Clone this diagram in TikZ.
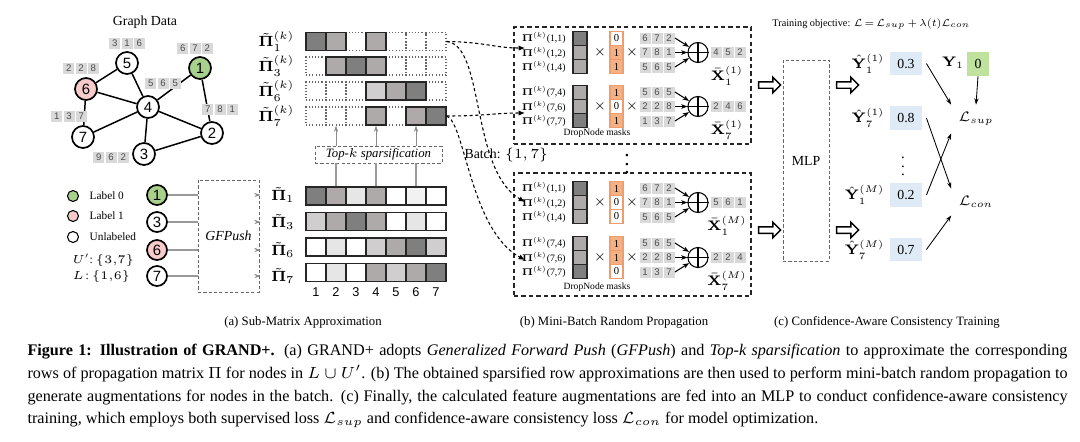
\RequirePackage{fix-cm}
\documentclass[tikz,border=0pt]{standalone}
\usepackage{graphicx}
\usepackage[no-math]{fontspec}
\setmainfont{Liberation Serif}
\newfontfamily\cellfont{Liberation Sans}
\usetikzlibrary{arrows.meta,shapes.arrows,positioning}

\newcommand{\pu}{0.47pt}
\definecolor{gdark}{HTML}{7F7F7F}
\definecolor{gmid}{HTML}{AEAAAA}
\definecolor{glight}{HTML}{D0CECE}
\definecolor{gpale}{HTML}{E7E6E6}
\definecolor{gfaint}{HTML}{F2F2F2}
\definecolor{featgray}{HTML}{D9D9D9}
\definecolor{lblgreen}{HTML}{A9D18E}
\definecolor{lblpink}{HTML}{F8CBCB}
\definecolor{maskorange}{HTML}{F4B183}
\definecolor{maskline}{HTML}{EE9E6E}
\definecolor{predblue}{HTML}{DEEBF7}
\definecolor{truegreen}{HTML}{BFE39F}

\tikzset{
    gnode/.style={circle,draw,line width=0.8pt,minimum size=22*\pu,inner sep=0pt,fill=white,font=\cellfont\fontsize{7}{8}\selectfont},
    legnode/.style={circle,draw,line width=0.5pt,minimum size=11*\pu,inner sep=0pt},
    feat/.style={fill=featgray,minimum width=11*\pu,minimum height=11*\pu,inner sep=0pt,font=\cellfont\fontsize{4.5}{5}\selectfont,text=black!70},
    pcell/.style={draw=black!85,line width=0.5pt,minimum width=20*\pu,minimum height=18*\pu,inner sep=0pt},
    zcell/.style={pcell,draw=black!60,densely dotted},
    colcell/.style={pcell,minimum width=14*\pu,minimum height=14*\pu},
    mask0/.style={draw=maskline,fill=white,line width=0.5pt,minimum width=13*\pu,minimum height=14*\pu,inner sep=0pt,font=\fontsize{5}{6}\selectfont},
    mask1/.style={mask0,fill=maskorange},
    dashbox/.style={draw=black!60,dash pattern=on 1.5pt off 1pt,line width=0.4pt,inner sep=0pt},
    bigdash/.style={draw=black!85,dash pattern=on 2pt off 1.5pt,line width=0.6pt,inner sep=0pt},
    harrow/.style={single arrow,draw,line width=0.7pt,minimum height=22*\pu,inner xsep=0pt,inner ysep=2.5*\pu,single arrow head extend=4.5*\pu,single arrow head indent=0pt},
    flow/.style={dash pattern=on 1.5pt off 1.2pt,line width=0.5pt,-{Latex[length=3pt,width=2.5pt]}},
    thin arrow/.style={line width=0.4pt,-{Stealth[length=3pt,width=2pt]}},
    small/.style={font=\fontsize{6}{7}\selectfont}
}

\begin{document}
\begin{tikzpicture}[x=\pu,y=-\pu]
    \useasboundingbox (0,0) rectangle (1080,441);

    % (a) graph data
    \node[font=\fontsize{6.5}{8}\selectfont] (gtitle) at (145,22) {Graph Data};
    \node[gnode] (v5) at (127,63) {5};
    \node[gnode,fill=lblgreen] (v1) at (200,68) {1};
    \node[gnode,fill=lblpink] (v6) at (86,89) {6};
    \node[gnode] (v4) at (148,107) {4};
    \node[gnode] (v7) at (83,137) {7};
    \node[gnode] (v2) at (212,133) {2};
    \node[gnode] (v3) at (144,154) {3};
    \foreach \a/\b in {5/6,5/4,6/4,6/7,1/4,1/2,4/7,4/3,4/2,3/2}
        \draw[line width=0.7pt] (v\a) -- (v\b);
    \foreach \nm/\cx/\cy/\fa/\fb/\fc in {5/127/43/3/1/6,1/195/48/6/7/2,6/81/68/2/2/8,4/163/83/5/6/5,7/69/116/1/3/7,2/220/109/7/8/1,3/111/157/9/6/2} {
        \node[feat] (f\nm a) at (\cx-12.3,\cy) {\fa};
        \node[feat] (f\nm b) at (\cx,\cy) {\fb};
        \node[feat] (f\nm c) at (\cx+12.3,\cy) {\fc};
    }

    % (a) legend and GFPush
    \node[legnode,fill=lblgreen] (lg0) at (73,196) {};
    \node[legnode,fill=lblpink] (lg1) at (73,216) {};
    \node[legnode] (lgu) at (73,237) {};
    \node[right=1.5pt of lg0,font=\fontsize{5.3}{6}\selectfont] (lt0) {Label 0};
    \node[right=1.5pt of lg1,font=\fontsize{5.3}{6}\selectfont] (lt1) {Label 1};
    \node[right=1.5pt of lgu,font=\fontsize{5.3}{6}\selectfont] (ltu) {Unlabeled};
    \node[anchor=west,font=\fontsize{5.5}{6}\selectfont] (uset) at (65,260) {$U'$:\ $\{3{,}7\}$};
    \node[anchor=west,font=\fontsize{5.5}{6}\selectfont] (lset) at (65,277) {$L$\,:\ $\{1{,}6\}$};

    \node[gnode,minimum size=20*\pu,fill=lblgreen] (s1) at (157,195) {1};
    \node[gnode,minimum size=20*\pu] (s3) at (157,222) {3};
    \node[gnode,minimum size=20*\pu,fill=lblpink] (s6) at (157,250) {6};
    \node[gnode,minimum size=20*\pu] (s7) at (157,276) {7};
    \node[dashbox,minimum width=61*\pu,minimum height=112*\pu,font=\fontsize{6.5}{8}\selectfont\itshape] (gfp) at (228.5,236) {GFPush};
    \foreach \r/\y in {1/195,3/222,6/250,7/276} {
        \node[anchor=east,font=\fontsize{7}{8}\selectfont] (pb\r) at (302,\y) {$\tilde{\mathbf{\Pi}}_{\r}$};
        \draw[black!40,line width=0.6pt] (s\r) -- (s\r -| gfp.west);
        \draw[black!45,thin arrow,shorten >=1.5pt] (s\r -| gfp.east) -- (pb\r.west);
    }

    % (a) approximated rows
    \foreach \r/\y/\cols in {1/196/{gdark,gmid,gpale,gmid,white,gfaint,white},3/221.5/{glight,gmid,gdark,gmid,white,gpale,white},6/247/{white,gpale,white,glight,gmid,gdark,glight},7/272.5/{white,gpale,white,gmid,glight,gmid,gdark}}
        \foreach \c [count=\i] in \cols
            \node[pcell,fill=\c] (b\r-\i) at (296+20*\i,\y) {};
    \foreach \i in {1,...,7}
        \node[font=\cellfont\fontsize{6}{7}\selectfont] (cn\i) at (296+20*\i,292) {\i};

    % (a) sparsified rows
    \foreach \r/\y in {1/41.5,3/66,6/91,7/116} {
        \foreach \i in {1,...,7}
            \node[zcell] (t\r-\i) at (296+20*\i,\y) {};
        \node[anchor=east,font=\fontsize{7}{8}\selectfont] (tp\r) at (302,\y) {$\tilde{\mathbf{\Pi}}_{\r}^{(k)}$};
    }
    \foreach \r/\i/\c in {1/1/gdark,1/2/gmid,1/4/gmid,3/2/gmid,3/3/gdark,3/4/gmid,6/4/glight,6/5/gmid,6/6/gdark,7/4/gmid,7/6/gmid,7/7/gdark}
        \node[pcell,fill=\c] at (t\r-\i) {};

    \node[dashbox,minimum width=127*\pu,minimum height=17*\pu,font=\fontsize{6}{7}\selectfont\itshape] (topk) at (378.5,154.5) {Top-$k$ sparsification};
    \foreach \i in {2,4,6} {
        \draw[black!40,line width=0.6pt] (b1-\i.north) -- (b1-\i.north |- topk.south);
        \draw[black!45,thin arrow] (t7-\i.south |- topk.north) -- (t7-\i.south);
    }
    \node[anchor=west,font=\fontsize{6.5}{8}\selectfont] (batch) at (457,155) {Batch: $\{1,7\}$};

    % (b) mini-batch random propagation
    \node[bigdash,minimum width=237*\pu,minimum height=117*\pu] (boxA) at (632.5,85.5) {};
    \node[bigdash,minimum width=237*\pu,minimum height=123*\pu] (boxB) at (632.5,234.5) {};
    \node (vdots) at (627,158) {$\vdots$};
    \node[font=\fontsize{4.5}{5}\selectfont] (dmA) at (597,133) {DropNode masks};
    \node[font=\fontsize{4.5}{5}\selectfont] (dmB) at (597,287) {DropNode masks};

    \foreach \g/\y/\s/\idx/\grays/\masks/\feats/\outs/\aug in {
        A1/52.5/1/{1,2,4}/{gdark,gmid,gmid}/{0,1,1}/{6/7/2,7/8/1,5/6/5}/{4,5,2}/1,
        A2/106.5/7/{4,6,7}/{gmid,gmid,gdark}/{1,0,1}/{5/6/5,2/2/8,1/3/7}/{2,4,6}/1,
        B1/202.5/1/{1,2,4}/{gdark,gmid,gmid}/{1,0,0}/{6/7/2,7/8/1,5/6/5}/{5,6,1}/M,
        B2/257.5/7/{4,6,7}/{gmid,gmid,gdark}/{1,1,0}/{5/6/5,2/2/8,1/3/7}/{2,2,4}/M} {
        \foreach \j [count=\n] in \idx
            \node[anchor=east,inner sep=0pt,font=\fontsize{4.6}{5}\selectfont] (\g-l\n) at (566,\y+14.5*\n-29) {$\mathbf{\Pi}^{(k)}$(\s,\j)};
        \foreach \c [count=\n] in \grays
            \node[colcell,fill=\c] (\g-p\n) at (580,\y+14*\n-28) {};
        \node[font=\fontsize{6}{7}\selectfont] (\g-x1) at (600,\y) {$\times$};
        \foreach \m [count=\n] in \masks
            \node[mask\m] (\g-m\n) at (616.5,\y+14*\n-28) {\m};
        \node[font=\fontsize{6}{7}\selectfont] (\g-x2) at (632,\y) {$\times$};
        \foreach \fa/\fb/\fc [count=\n] in \feats {
            \node[feat] (\g-f\n a) at (645,\y+14.5*\n-29) {\fa};
            \node[feat] (\g-f\n b) at (657,\y+14.5*\n-29) {\fb};
            \node[feat] (\g-f\n c) at (669,\y+14.5*\n-29) {\fc};
        }
        \node[circle,draw,line width=0.5pt,minimum size=12*\pu] (\g-sum) at (698,\y) {};
        \draw[line width=0.5pt] (\g-sum.north) -- (\g-sum.south) (\g-sum.west) -- (\g-sum.east);
        \foreach \n in {1,2,3}
            \draw[line width=0.5pt,-{Stealth[length=3pt,width=2.2pt]}] (\g-f\n c.east) -- (\g-sum);
        \foreach \o [count=\n] in \outs
            \node[feat] (\g-o\n) at (704+12*\n,\y) {\o};
        \node[inner sep=0pt,font=\fontsize{6.5}{7}\selectfont] (\g-xl) at (727,\y+23) {$\bar{\mathbf{X}}_{\s}^{(\aug)}$};
    }

    \coordinate (A1-in) at (525,48);
    \coordinate (A2-in) at (525,113);
    \coordinate (B1-in) at (525,202);
    \coordinate (B2-in) at (525,260);
    \draw[flow] (t1-7.east) .. controls (485,42) and (495,48) .. (A1-in);
    \draw[flow] (t1-7.east) .. controls (485,45) and (470,170) .. (B1-in);
    \draw[flow] (t7-7.east) .. controls (485,116) and (495,113) .. (A2-in);
    \draw[flow] (t7-7.east) .. controls (465,122) and (470,230) .. (B2-in);

    % (c) confidence-aware consistency training
    \node[anchor=west,inner sep=0pt,font=\fontsize{6}{7}\selectfont] (obj) at (772,24) {\resizebox{93pt}{!}{Training objective: $\mathcal{L}\,{=}\,\mathcal{L}_{sup}\,{+}\,\lambda(t)\mathcal{L}_{con}$}};
    \node[dashbox,minimum width=46*\pu,minimum height=201*\pu,font=\fontsize{6.5}{8}\selectfont] (mlp) at (806,160.5) {MLP};
    \node[harrow] (ha1) at (768,85) {};
    \node[harrow] (ha2) at (768,230) {};
    \node[harrow] (ha3) at (846,85) {};
    \node[harrow] (ha4) at (846,230) {};
    \foreach \q/\y/\s/\aug/\v in {1/63.5/1/1/0.3,2/118/7/1/0.8,3/195/1/M/0.2,4/249.5/7/M/0.7} {
        \node[anchor=east,font=\fontsize{6.5}{7}\selectfont] (yh\q) at (892,\y) {$\hat{\mathbf{Y}}_{\s}^{(\aug)}$};
        \node[fill=predblue,minimum width=24*\pu,minimum height=21*\pu,font=\fontsize{6.5}{7}\selectfont] (pv\q) at (906,\y) {\v};
    }
    \node[font=\fontsize{7}{8}\selectfont] (ydots) at (903,160) {$\vdots$};
    \node[font=\fontsize{6.5}{7}\selectfont] (ylab) at (953,63) {$\mathbf{Y}_1$};
    \node[fill=truegreen,minimum width=20*\pu,minimum height=22*\pu,font=\fontsize{6.5}{7}\selectfont] (ytrue) at (978,64) {0};
    \node[font=\fontsize{6.5}{7}\selectfont] (lsup) at (976,119) {$\mathcal{L}_{sup}$};
    \node[font=\fontsize{6.5}{7}\selectfont] (lcon) at (976,202) {$\mathcal{L}_{con}$};
    \draw[thin arrow] (ytrue.south) -- (lsup.north);
    \draw[thin arrow] ([xshift=2pt]pv1.east) -- (lsup.north west);
    \draw[thin arrow] ([xshift=2pt]pv2.east) -- (lcon.north west);
    \draw[thin arrow] ([xshift=2pt]pv3.east) -- (lsup.south west);
    \draw[thin arrow] ([xshift=2pt]pv4.east) -- (lcon.south west);

    % sub-captions
    \node[small] (capa) at (303,322) {(a) Sub-Matrix Approximation};
    \node[small] (capb) at (614,322) {(b) Mini-Batch Random Propagation};
    \node[small] (capc) at (887,322) {(c) Confidence-Aware Consistency Training};

    % figure caption
    \node[anchor=north west,align=left,font=\fontsize{7.6}{10.6}\selectfont] (cap) at (20,337) {%
        \makebox[488.8pt][s]{\textbf{Figure 1: Illustration of GRAND+.} (a) GRAND+ adopts \emph{Generalized Forward Push} (\emph{GFPush}) and \emph{Top-k sparsification} to approximate the corresponding}\\
        \makebox[488.8pt][s]{rows of propagation matrix $\Pi$ for nodes in $L\cup U'$. (b) The obtained sparsified row approximations are then used to perform mini-batch random propagation to}\\
        \makebox[488.8pt][s]{generate augmentations for nodes in the batch. (c) Finally, the calculated feature augmentations are fed into an MLP to conduct confidence-aware consistency}\\
        training, which employs both supervised loss $\mathcal{L}_{sup}$ and confidence-aware consistency loss $\mathcal{L}_{con}$ for model optimization.};
\end{tikzpicture}
\end{document}
